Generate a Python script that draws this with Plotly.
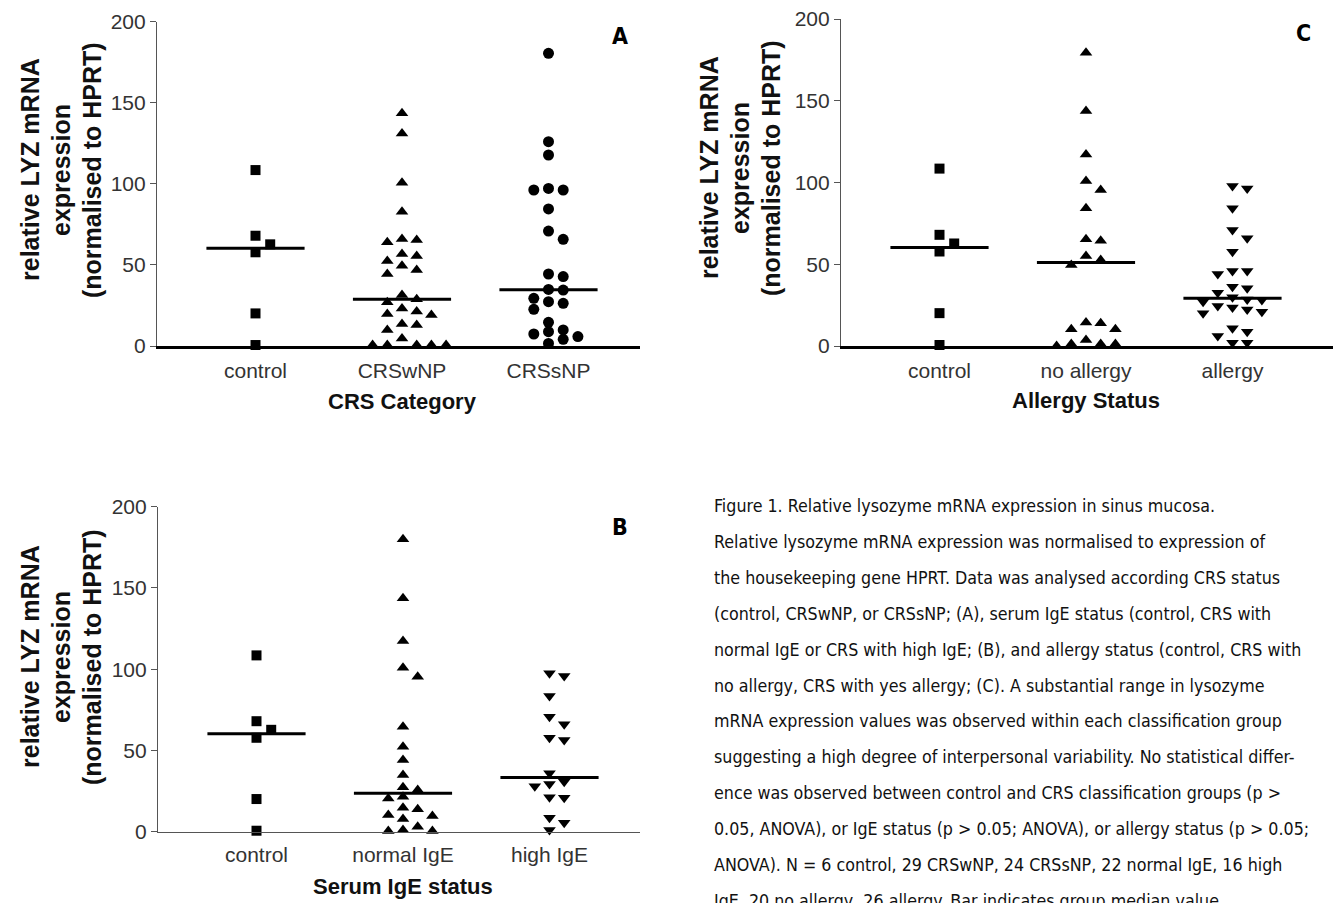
import numpy as np
import plotly.graph_objects as go

# ---------------- data ----------------
control = [108.5, 68.0, 62.7, 57.8, 20.1, 0.6]

crs_categories = ["control", "CRSwNP", "CRSsNP"]
crswnp = [143.5, 131.0, 100.7, 82.8, 66.0, 65.4, 64.0, 56.7, 55.5, 52.4, 49.5, 46.9,
          44.4, 31.4, 28.8, 27.0, 23.2, 21.2, 19.7, 19.1, 13.6, 13.0, 9.9, 4.7,
          0.6, 0.6, 0.6, 0.6, 0.6]
crssnp = [180.5, 126.0, 117.8, 97.2, 96.2, 96.2, 84.5, 70.9, 65.8, 44.4, 42.8, 34.9,
          34.5, 29.4, 27.3, 26.3, 22.6, 14.6, 9.9, 8.8, 7.4, 5.8, 4.1, 1.6]

ige_categories = ["control", "normal IgE", "high IgE"]
normal_ige = [179.9, 143.6, 117.3, 100.9, 95.4, 64.6, 52.3, 44.1, 34.9, 27.3, 25.7,
              21.5, 20.5, 14.8, 13.8, 10.3, 9.7, 7.8, 3.1, 1.0, 0.4, 0.4]
high_ige = [97.5, 95.8, 83.5, 70.8, 66.1, 57.8, 56.4, 35.9, 30.8, 29.3, 28.0, 21.2,
            20.9, 8.6, 5.5, 1.0]

allergy_categories = ["control", "no allergy", "allergy"]
no_allergy = [179.3, 143.7, 117.2, 100.9, 95.4, 84.2, 65.3, 64.4, 55.0, 52.6, 49.5,
              14.3, 13.9, 10.2, 10.2, 3.7, 1.2, 1.2, 1.2, 0.0]
allergy = [97.9, 96.4, 84.2, 71.0, 65.9, 57.7, 45.9, 45.9, 44.0, 36.3, 35.3, 32.6,
           29.8, 28.5, 28.1, 27.1, 24.5, 23.6, 22.4, 21.0, 20.0, 10.8, 8.7, 6.1,
           2.0, 2.0]

y_ticks = [0, 50, 100, 150, 200]
y_title_lines = ["relative LYZ mRNA", "expression", "(normalised to HPRT)"]

caption_lines = [
    "Figure 1. Relative lysozyme mRNA expression in sinus mucosa.",
    "Relative lysozyme mRNA expression was normalised to expression of",
    "the housekeeping gene HPRT. Data was analysed according CRS status",
    "(control, CRSwNP, or CRSsNP; (A), serum IgE status (control, CRS with",
    "normal IgE or CRS with high IgE; (B), and allergy status (control, CRS with",
    "no allergy, CRS with yes allergy; (C). A substantial range in lysozyme",
    "mRNA expression values was observed within each classification group",
    "suggesting a high degree of interpersonal variability. No statistical differ-",
    "ence was observed between control and CRS classification groups (p >",
    "0.05, ANOVA), or IgE status (p > 0.05; ANOVA), or allergy status (p > 0.05;",
    "ANOVA). N = 6 control, 29 CRSwNP, 24 CRSsNP, 22 normal IgE, 16 high",
    "IgE, 20 no allergy, 26 allergy. Bar indicates group median value.",
]

# ---------------- layout helpers ----------------
W, H = 1344, 903
PAGE_OFFSET = 8  # the page body margin shifts the figure by 8 px


def px(x):
    return (x - PAGE_OFFSET) / W


def py(y):
    return 1 - (y - PAGE_OFFSET) / H


PPU = 324.3 / 200.0      # pixels per y unit
CAT_PX = 146.5           # pixels between categories
STEP_PX = 14.7           # horizontal spacing of swarm columns


def swarm(values, min_dy_px=9.0):
    """Greedy column-swarm (Prism-like scatter dot plot) offsets in category units."""
    vals = np.asarray(values, dtype=float)
    order = np.argsort(-vals, kind="stable")
    placed = []
    offs = np.zeros(len(vals))
    for i in order:
        v = vals[i]
        chosen = 0
        for s in [0, 1, -1, 2, -2, 3, -3, 4, -4, 5, -5]:
            if all(not (ps == s and abs(pv - v) * PPU < min_dy_px) for ps, pv in placed):
                chosen = s
                break
        placed.append((chosen, v))
        offs[i] = chosen * STEP_PX / CAT_PX
    return offs


FONT = "Liberation Sans, Arial, Helvetica, sans-serif"
NARROW = "Liberation Sans Narrow, Arial Narrow, DejaVu Sans Condensed, Roboto, sans-serif"

panels = [
    dict(sfx="", cats=crs_categories, groups=[control, crswnp, crssnp],
         symbols=["square", "triangle-up", "circle"],
         xd=(157, 640), yd=(21.7, 346), xline=(2.5, "#000000"),
         title="CRS Category", title_y=401, letter="A", letter_xy=(620, 36),
         ytitle_x=(30, 61, 92), ymid=170),
    dict(sfx="2", cats=ige_categories, groups=[control, normal_ige, high_ige],
         symbols=["square", "triangle-up", "triangle-down"],
         xd=(158, 640), yd=(506.7, 831.7), xline=(1.2, "#555555"),
         title="Serum IgE status", title_y=886, letter="B", letter_xy=(620, 527),
         ytitle_x=(30, 61, 92), ymid=657),
    dict(sfx="3", cats=allergy_categories, groups=[control, no_allergy, allergy],
         symbols=["square", "triangle-up", "triangle-down"],
         xd=(841, 1333), yd=(19, 346), xline=(2.5, "#000000"),
         title="Allergy Status", title_y=400, letter="C", letter_xy=(1303, 33),
         ytitle_x=(709, 740, 771), ymid=168),
]

fig = go.Figure()
annotations = []
layout_axes = {}

for p in panels:
    sfx = p["sfx"]
    xref = "x" + sfx
    yref = "y" + sfx
    x0, x1 = p["xd"]
    yt, yb = p["yd"]
    left = -98.5 / CAT_PX
    right = left + (x1 - x0) / CAT_PX

    for gi, (vals, sym) in enumerate(zip(p["groups"], p["symbols"])):
        offs = swarm(vals)
        size = 10 if sym == "square" else 11
        fig.add_trace(go.Scatter(
            x=gi + offs, y=vals, mode="markers", xaxis=xref, yaxis=yref,
            marker=dict(symbol=sym, size=size, color="#000000", line=dict(width=0)),
            cliponaxis=False, showlegend=False, hoverinfo="y"))
        med = float(np.median(vals))
        fig.add_trace(go.Scatter(
            x=[gi - 0.335, gi + 0.335], y=[med, med], mode="lines",
            xaxis=xref, yaxis=yref, line=dict(color="#000000", width=3),
            cliponaxis=False, showlegend=False, hoverinfo="skip"))

    layout_axes["xaxis" + sfx] = dict(
        domain=[px(x0), px(x1)], anchor=yref, range=[left, right],
        tickvals=[0, 1, 2], ticktext=p["cats"], ticks="", showgrid=False,
        zeroline=False, showline=True, linewidth=p["xline"][0], linecolor=p["xline"][1],
        tickfont=dict(family=FONT, size=21, color="#333333"), ticklabelstandoff=4,
        ticklabeloverflow="allow", automargin=False, fixedrange=True)
    layout_axes["yaxis" + sfx] = dict(
        domain=[py(yb), py(yt)], anchor=xref, range=[0, 200], tickvals=y_ticks,
        ticks="outside", ticklen=6, tickwidth=1.2, tickcolor="#555555",
        showline=True, linewidth=1.2, linecolor="#555555", showgrid=False,
        zeroline=False, tickfont=dict(family=FONT, size=21, color="#333333"),
        ticklabeloverflow="allow", automargin=False, fixedrange=True)

    # x-axis title
    annotations.append(dict(
        text="<b>%s</b>" % p["title"], xref="paper", yref="paper",
        x=px(x0 + (1 - left) * CAT_PX), y=py(p["title_y"]), xanchor="center",
        yanchor="middle", showarrow=False,
        font=dict(family=FONT, size=22, color="#111111")))
    # y-axis title (three lines)
    for line, lx in zip(y_title_lines, p["ytitle_x"]):
        annotations.append(dict(
            text="<b>%s</b>" % line, xref="paper", yref="paper", x=px(lx),
            y=py(p["ymid"]), xanchor="center", yanchor="middle", textangle=-90,
            showarrow=False, font=dict(family=FONT, size=25, color="#111111")))
    # panel letter
    lx, ly = p["letter_xy"]
    annotations.append(dict(
        text="<b>%s</b>" % p["letter"], xref="paper", yref="paper", x=px(lx),
        y=py(ly), xanchor="center", yanchor="middle", showarrow=False,
        font=dict(family=NARROW, size=23, color="#000000")))

# caption
for i, line in enumerate(caption_lines):
    annotations.append(dict(
        text=line, xref="paper", yref="paper", x=px(712), y=py(506 + i * 35.9),
        xanchor="left", yanchor="middle", showarrow=False, align="left",
        font=dict(family=NARROW, size=17.7, color="#111111")))

fig.update_layout(
    template="none",
    width=W, height=H, autosize=False,
    margin=dict(l=0, r=0, t=0, b=0, pad=0),
    paper_bgcolor="#ffffff", plot_bgcolor="rgba(0,0,0,0)",
    showlegend=False, annotations=annotations, **layout_axes)

fig.write_html("out.html")
